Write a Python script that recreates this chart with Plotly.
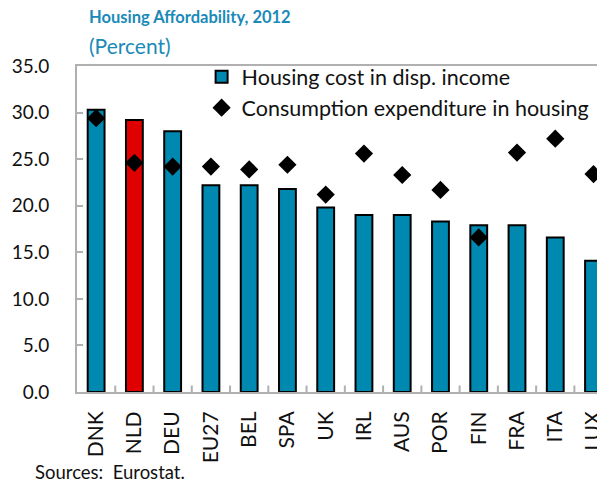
import plotly.graph_objects as go

countries = ["DNK", "NLD", "DEU", "EU27", "BEL", "SPA", "UK", "IRL", "AUS", "POR", "FIN", "FRA", "ITA", "LUX"]
housing_cost = [30.3, 29.2, 28.0, 22.2, 22.2, 21.8, 19.8, 19.0, 19.0, 18.3, 17.9, 17.9, 16.6, 14.1]
consumption = [29.4, 24.6, 24.2, 24.2, 23.9, 24.4, 21.2, 25.6, 23.3, 21.7, 16.6, 25.7, 27.2, 23.4]

TEAL = "#0089B0"
RED = "#E00000"
bar_colors = [RED if c == "NLD" else TEAL for c in countries]
FONT = "Lato"

fig = go.Figure()
fig.add_trace(go.Bar(
    x=countries, y=housing_cost, name="Housing cost in disp. income",
    marker=dict(color=bar_colors, line=dict(color="black", width=2)),
    width=0.44,
))
fig.add_trace(go.Scatter(
    x=countries, y=consumption, name="Consumption expenditure in housing",
    mode="markers", marker=dict(symbol="diamond", size=14, color="black"),
))

# The page body has an 8px margin, so the figure is sized/offset to compensate.
fig.update_layout(
    width=597, height=477,
    margin=dict(l=69, r=0, t=58, b=93),
    paper_bgcolor="white", plot_bgcolor="white",
    font=dict(family=FONT, size=19, color="#111111"),
    showlegend=True,
    legend=dict(x=0.236, y=1.03, xanchor="left", yanchor="top",
                bgcolor="rgba(0,0,0,0)", font=dict(size=21.5),
                tracegroupgap=0, itemwidth=30),
    xaxis=dict(
        range=[-0.5, 13.3], showline=True, linecolor="#B0B0B0", linewidth=2,
        mirror=True, ticks="", tickangle=-90, showgrid=False, automargin=False,
        tickfont=dict(size=21), ticklabelstandoff=9,
    ),
    yaxis=dict(
        range=[0, 35], dtick=5, tickformat=".1f", showline=True,
        linecolor="#B0B0B0", linewidth=2, ticks="inside", ticklen=6,
        tickcolor="#B0B0B0", tickwidth=2, showgrid=False, zeroline=False,
        automargin=False, tickfont=dict(size=19), ticklabelstandoff=22,
    ),
    annotations=[
        dict(text="<b>Housing Affordability, 2012</b>", xref="paper", yref="paper",
             x=0.019, y=1.15, xanchor="left", yanchor="middle", showarrow=False,
             font=dict(size=16.5, color="#1A8AB8", family=FONT)),
        dict(text="(Percent)", xref="paper", yref="paper",
             x=0.019, y=1.064, xanchor="left", yanchor="middle", showarrow=False,
             font=dict(size=21, color="#1A8AB8", family=FONT)),
        dict(text="Sources:  Eurostat.", xref="paper", yref="paper",
             x=-0.083, y=-0.245, xanchor="left", yanchor="middle", showarrow=False,
             font=dict(size=18.5, color="#111111", family=FONT)),
    ],
)

# category separator ticks along the bottom axis
for i in range(len(countries) - 1):
    fig.add_shape(type="line", xref="x", yref="y", x0=i + 0.5, x1=i + 0.5,
                  y0=0, y1=0.7, line=dict(color="#B0B0B0", width=2))

fig.write_html("out.html")
